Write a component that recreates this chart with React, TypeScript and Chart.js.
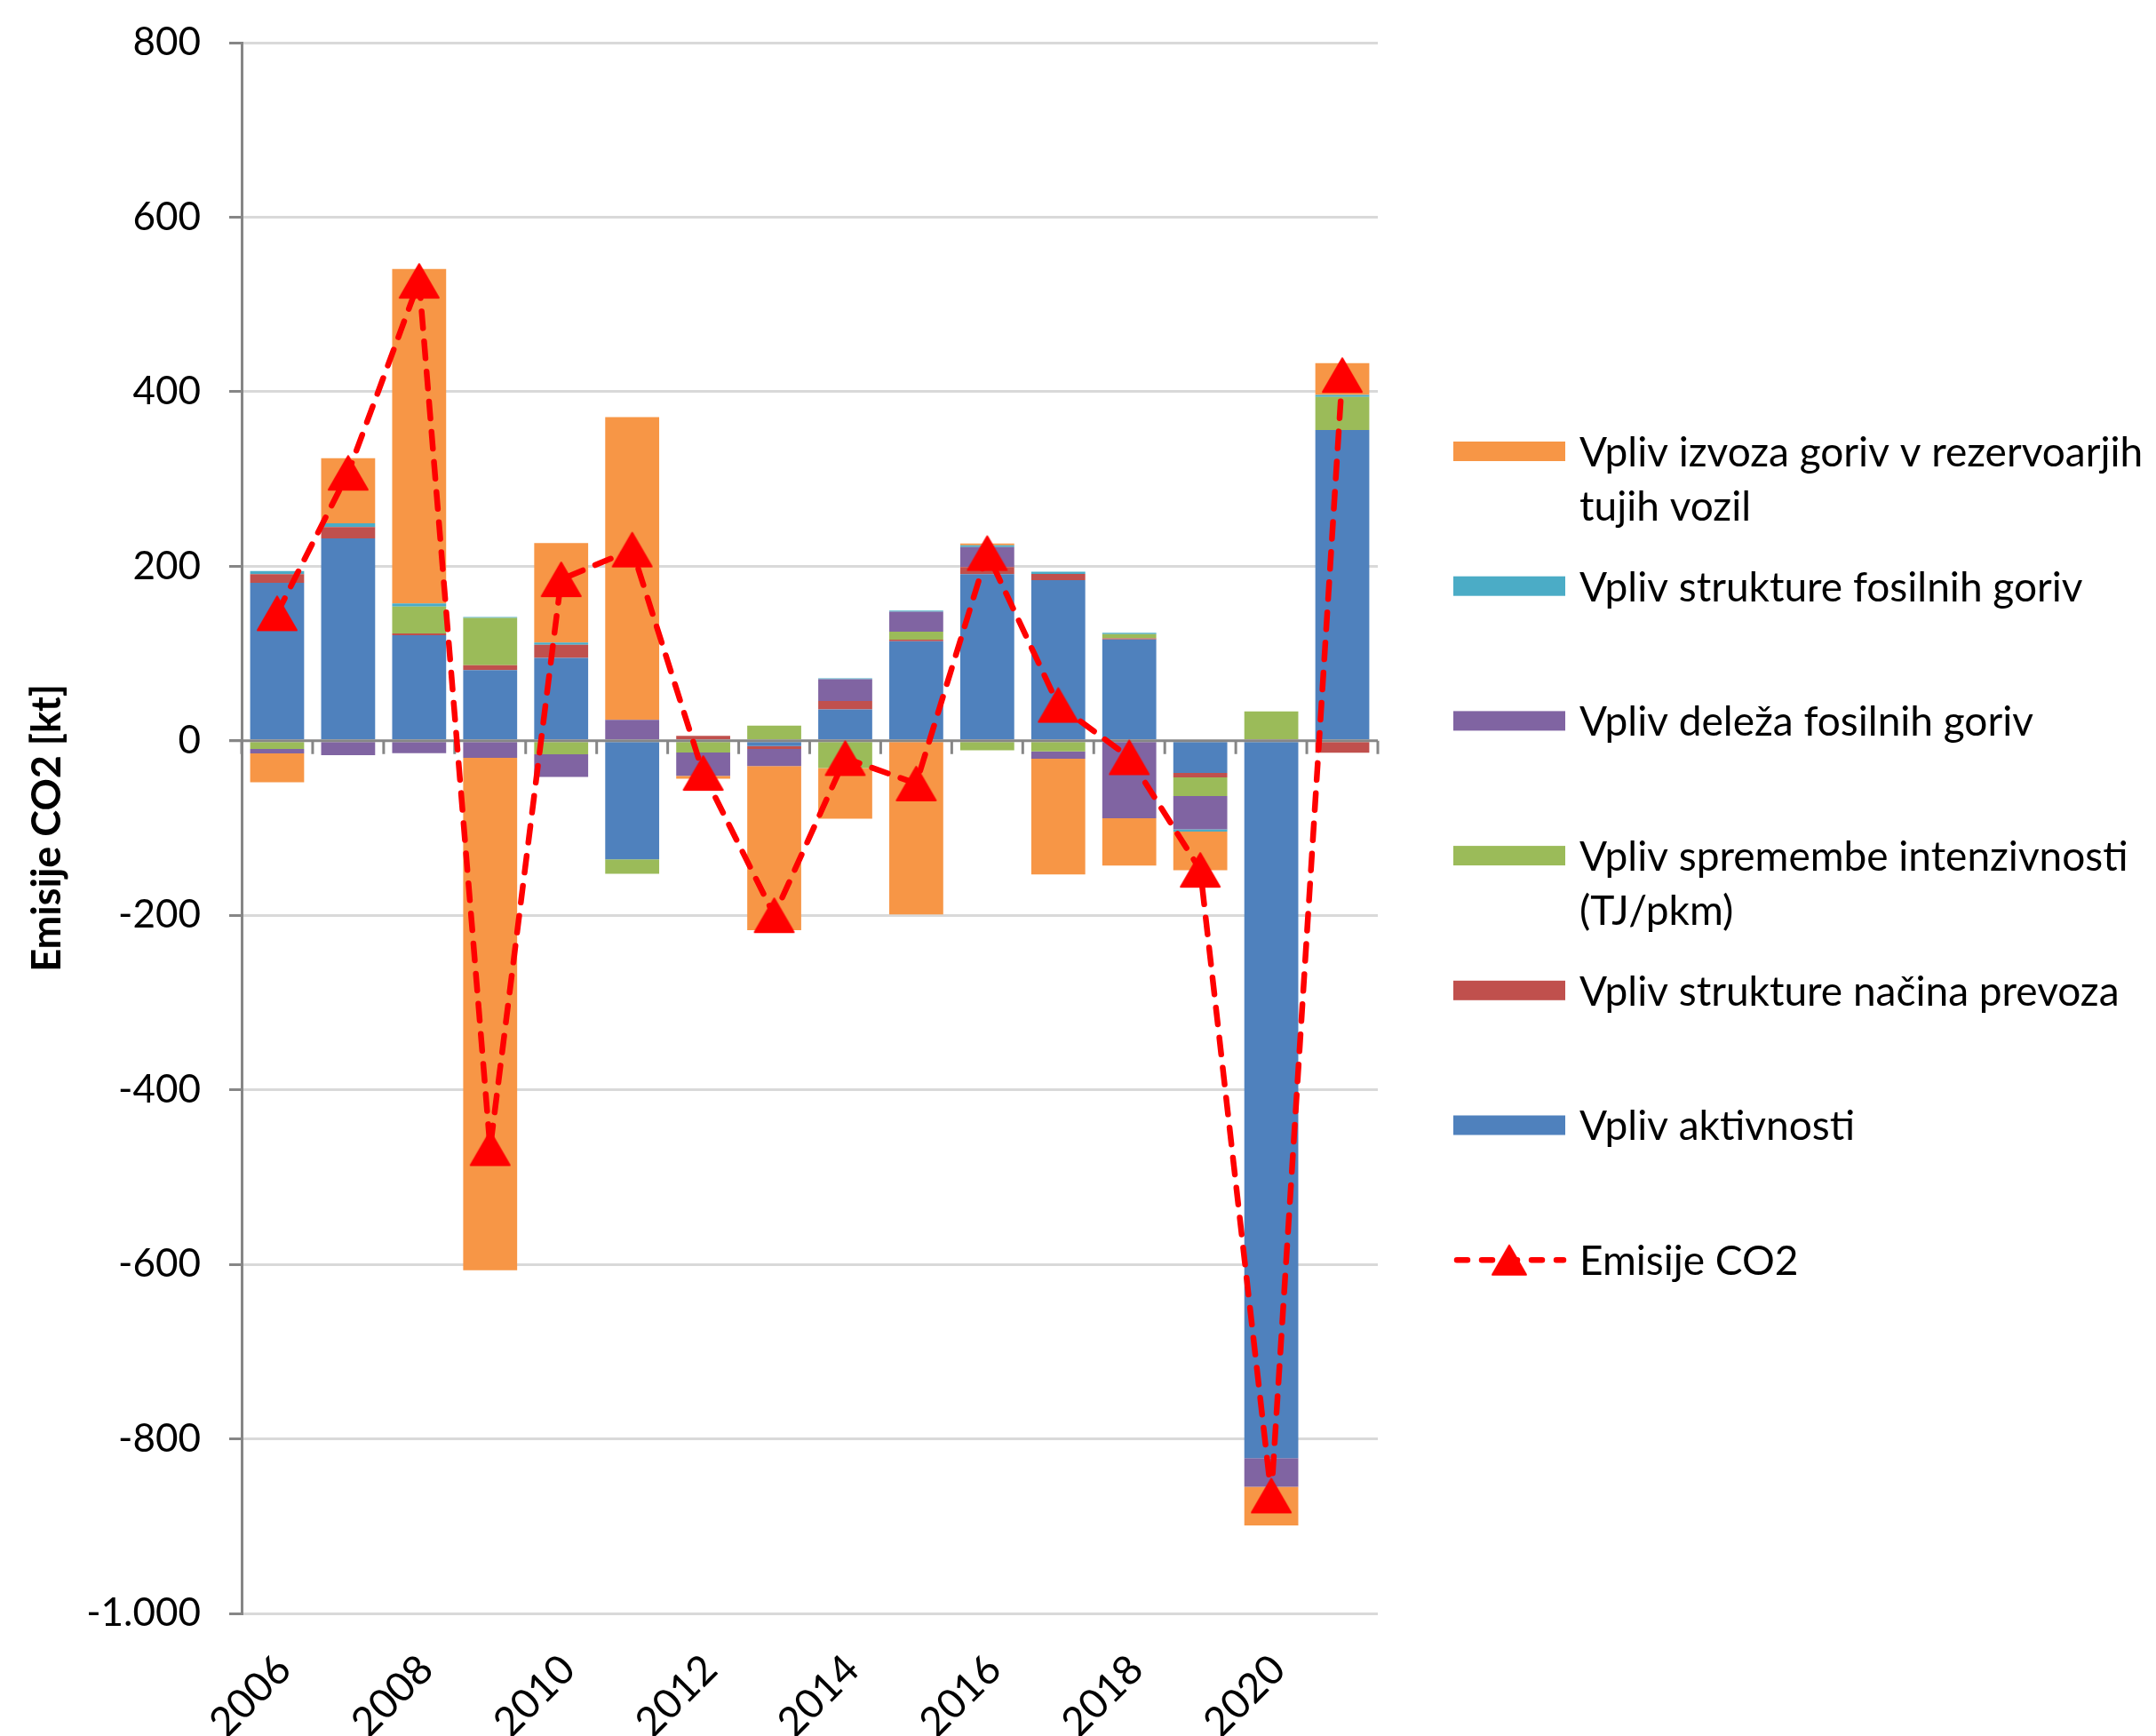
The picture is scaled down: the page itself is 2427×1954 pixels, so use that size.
import React, { useEffect, useRef } from 'react';
import { Chart, registerables } from 'chart.js';

Chart.register(...registerables);

// ---- Data ----
const years = ['2006', '2007', '2008', '2009', '2010', '2011', '2012', '2013', '2014', '2015', '2016', '2017', '2018', '2019', '2020', '2021'];

const aktivnosti = [181, 232, 121, 81, 95, -136, 0, -6, 36, 114, 191, 184, 116, -37, -822, 356];
const strukturaPrevoza = [10, 13, 2, 5.5, 15, 0, 5.6, -3.4, 9.6, 1.8, 8, 7.3, 1.4, -5, 1.7, -13.6];
const intenzivnost = [-9.5, 0, 30.8, 54.4, -15.5, -16.4, -13.5, 17.3, -31.4, 9.3, -11, -12.2, 4.7, -21.4, 31.9, 38];
const delezFosilnih = [-5, -16.5, -14.3, -19.5, -25.9, 24, -26.8, -19.7, 25, 22.9, 22.9, -8.3, -88.8, -38, -32.9, 0];
const strukturaFosilnih = [3.4, 4.2, 3.4, 1, 2.5, 0, 0, 0, 1, 1.1, 2.1, 2.4, 1.7, -2.7, 0, 2.4];
const izvozGoriv = [-33, 74.7, 383.5, -587.3, 114, 346.8, -3.1, -188, -57.9, -198.9, 2.1, -132.8, -54.3, -44.2, -44.2, 36.3];
const emisijeCO2 = [146, 307, 527, -467, 185, 219, -37, -200, -20, -49, 215, 41, -19, -148, -865, 419];

const yTicks = { min: -1000, max: 800, step: 200 };

const barSeries = [
  { label: 'Vpliv aktivnosti', data: aktivnosti, color: '#4F81BD' },
  { label: 'Vpliv strukture načina prevoza', data: strukturaPrevoza, color: '#C0504D' },
  { label: 'Vpliv spremembe intenzivnosti (TJ/pkm)', data: intenzivnost, color: '#9BBB59' },
  { label: 'Vpliv deleža fosilnih goriv', data: delezFosilnih, color: '#8064A2' },
  { label: 'Vpliv strukture fosilnih goriv', data: strukturaFosilnih, color: '#4BACC6' },
  { label: 'Vpliv izvoza goriv v rezervoarjih tujih vozil', data: izvozGoriv, color: '#F79646' },
];
const lineLabel = 'Emisije CO2';
const lineColor = '#FF0000';

// legend text lines (as wrapped in the original)
const legendLines: Record<string, string[]> = {
  'Vpliv izvoza goriv v rezervoarjih tujih vozil': ['Vpliv izvoza goriv v rezervoarjih', 'tujih vozil'],
  'Vpliv spremembe intenzivnosti (TJ/pkm)': ['Vpliv spremembe intenzivnosti', '(TJ/pkm)'],
};

const FONT = 'Lato';
const W = 2427;
const H = 1954;
const LINE_INDEX = barSeries.length;

function fmt(v: number): string {
  const s = Math.abs(v).toString().replace(/\B(?=(\d{3})+(?!\d))/g, '.');
  return (v < 0 ? '-' : '') + s;
}

// triangle marker image, centred on its bounding box (like the original)
function makeTriangle(w: number, h: number, color: string): HTMLCanvasElement {
  const c = document.createElement('canvas');
  c.width = w + 4;
  c.height = h + 4;
  const g = c.getContext('2d') as CanvasRenderingContext2D;
  g.fillStyle = color;
  g.strokeStyle = color;
  g.lineWidth = 2;
  g.lineJoin = 'round';
  g.beginPath();
  g.moveTo(c.width / 2, 2);
  g.lineTo(c.width - 2, c.height - 2);
  g.lineTo(2, c.height - 2);
  g.closePath();
  g.fill();
  g.stroke();
  return c;
}

const overlayPlugin = {
  id: 'overlay',
  beforeDatasetDraw(chart: any, args: any) {
    if (args.index !== LINE_INDEX) return;
    const { ctx, chartArea, scales } = chart;
    const x = scales.x;
    const y = scales.y;
    const y0 = y.getPixelForValue(0);
    ctx.save();
    ctx.strokeStyle = '#868686';
    ctx.lineWidth = 3;
    ctx.beginPath();
    ctx.moveTo(chartArea.left - 14, y0);
    ctx.lineTo(chartArea.right, y0);
    const n = years.length;
    for (let i = 0; i <= n; i++) {
      let px: number;
      if (i === 0) px = chartArea.left;
      else if (i === n) px = chartArea.right;
      else px = (x.getPixelForValue(i - 1) + x.getPixelForValue(i)) / 2;
      ctx.moveTo(px, y0);
      ctx.lineTo(px, y0 + 15);
    }
    ctx.stroke();
    ctx.restore();
  },
  afterDraw(chart: any) {
    const { ctx } = chart;
    const swX = 1636;
    const swW = 126;
    const swH = 22;
    const textX = 1778;
    const rowStart = 508;
    const rowStep = 151.7;
    const lineH = 61;
    const entries = [...barSeries].reverse();
    ctx.save();
    ctx.font = `46px ${FONT}`;
    ctx.textBaseline = 'middle';
    ctx.textAlign = 'left';
    entries.forEach((s, i) => {
      const cy = rowStart + i * rowStep;
      ctx.fillStyle = s.color;
      ctx.fillRect(swX, cy - swH / 2, swW, swH);
      ctx.fillStyle = '#000';
      const lines = legendLines[s.label] || [s.label];
      lines.forEach((t, j) => ctx.fillText(t, textX, cy + 2 + j * lineH));
    });
    const cy = rowStart + entries.length * rowStep;
    ctx.strokeStyle = lineColor;
    ctx.lineWidth = 6.5;
    ctx.lineCap = 'round';
    ctx.setLineDash([12, 16]);
    ctx.beginPath();
    ctx.moveTo(swX + 4, cy);
    ctx.lineTo(swX + swW - 2, cy);
    ctx.stroke();
    ctx.setLineDash([]);
    const tri = makeTriangle(38, 33, lineColor);
    ctx.drawImage(tri, swX + swW / 2 - tri.width / 2, cy - tri.height / 2);
    ctx.fillStyle = '#000';
    ctx.fillText(lineLabel, textX, cy + 2);
    ctx.restore();
  },
};

export default function App() {
  const ref = useRef<HTMLCanvasElement | null>(null);

  useEffect(() => {
    if (!ref.current) return;
    Chart.defaults.font.family = FONT;
    const marker = makeTriangle(44, 38, lineColor);
    const datasets: any[] = barSeries.map((s) => ({
      type: 'bar',
      label: s.label,
      data: s.data,
      backgroundColor: s.color,
      borderWidth: 0,
      barPercentage: 0.76,
      categoryPercentage: 1.0,
      order: 1,
    }));
    datasets.push({
      type: 'line',
      label: lineLabel,
      data: emisijeCO2,
      borderColor: lineColor,
      backgroundColor: lineColor,
      borderWidth: 6.5,
      borderDash: [19, 15],
      borderCapStyle: 'round',
      pointStyle: marker,
      pointRadius: 24,
      pointHoverRadius: 24,
      tension: 0,
      fill: false,
      clip: false,
      order: 0,
    });

    const chart = new Chart(ref.current, {
      type: 'bar',
      data: { labels: years, datasets },
      options: {
        responsive: false,
        animation: false,
        devicePixelRatio: 1,
        layout: { autoPadding: false, padding: { left: 0, right: W - 1551, top: 48, bottom: 0 } },
        plugins: {
          legend: { display: false },
          tooltip: { enabled: false },
        },
        scales: {
          x: {
            stacked: true,
            offset: true,
            grid: { display: false },
            border: { display: false },
            ticks: {
              autoSkip: false,
              maxRotation: 45,
              minRotation: 45,
              padding: 28,
              labelOffset: 8,
              color: '#000',
              font: { family: FONT, size: 46 },
              callback: (_v: any, idx: number) => (idx % 2 === 0 ? years[idx] : ''),
            },
            afterFit: (scale: any) => {
              scale.height = H - 1816;
              scale.paddingLeft = 0;
              scale.paddingRight = 0;
            },
          },
          y: {
            stacked: true,
            min: yTicks.min,
            max: yTicks.max,
            border: { display: true, color: '#868686', width: 3 },
            grid: {
              color: (c: any) => (c.tick && c.tick.value === 0 ? 'rgba(0,0,0,0)' : '#D9D9D9'),
              lineWidth: 3,
              tickColor: '#868686',
              tickLength: 14,
              drawTicks: true,
            },
            ticks: {
              stepSize: yTicks.step,
              padding: 32,
              color: '#000',
              font: { family: FONT, size: 44 },
              callback: (v: any) => fmt(Number(v)),
            },
            title: {
              display: true,
              text: 'Emisije CO2 [kt]',
              color: '#000',
              font: { family: FONT, size: 45, weight: 'bold' },
              padding: { top: 26, bottom: 0 },
            },
            afterFit: (scale: any) => {
              scale.width = 272;
              scale.paddingTop = 0;
              scale.paddingBottom = 0;
            },
          },
        },
      } as any,
      plugins: [overlayPlugin],
    });
    return () => chart.destroy();
  }, []);

  return (
    <div style={{ position: 'fixed', left: 0, top: 0, width: W, height: H, background: '#fff' }}>
      <canvas ref={ref} width={W} height={H} style={{ width: W, height: H, display: 'block' }} />
    </div>
  );
}
